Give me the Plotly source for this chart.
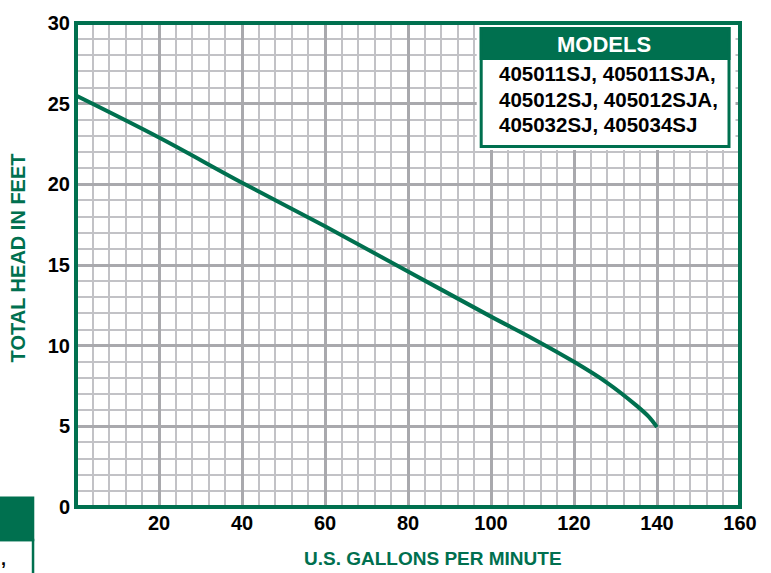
import plotly.graph_objects as go

gpm = [0, 20, 40, 60, 80, 100, 110, 120, 128, 135, 138, 140]
head = [25.5, 22.9, 20.1, 17.4, 14.6, 11.8, 10.45, 9.0, 7.7, 6.3, 5.6, 4.95]

x_ticks = [20, 40, 60, 80, 100, 120, 140, 160]
y_ticks = [0, 5, 10, 15, 20, 25, 30]
models_title = "MODELS"
models_lines = ["405011SJ, 405011SJA,", "405012SJ, 405012SJA,", "405032SJ, 405034SJ"]

GREEN = "#00704f"
FONT = "Liberation Sans, Arial, sans-serif"
W, H = 771, 573
L, R, T, B = 76, 740.5, 16, 507.5

def px(x):
    return (x - L) / (R - L)

def py(y):
    return (B - y) / (B - T)

fig = go.Figure()
fig.add_trace(go.Scatter(x=gpm, y=head, mode="lines",
                         line=dict(color=GREEN, width=4, shape="spline", smoothing=1.0),
                         hoverinfo="skip", showlegend=False))

axis_common = dict(
    showline=False,
    showgrid=True, gridcolor="#a9a9ad", gridwidth=2.5,
    zeroline=False, ticks="",
    tickfont=dict(family=FONT, size=20, color="black", weight="bold"),
)

fig.update_xaxes(range=[0, 160], tickvals=x_ticks, ticktext=[str(v) for v in x_ticks],
                 minor=dict(dtick=4, tick0=0, showgrid=True, gridcolor="#c2c2c6", gridwidth=1.5),
                 ticklabelstandoff=2, **axis_common)
fig.update_yaxes(range=[0, 30], tickvals=y_ticks, ticktext=[str(v) for v in y_ticks],
                 minor=dict(dtick=1, tick0=0, showgrid=True, gridcolor="#c2c2c6", gridwidth=1.5),
                 ticklabelstandoff=5, **axis_common)

shapes = []
# plot frame
shapes.append(dict(type="rect", xref="paper", yref="paper", x0=0, x1=1, y0=0, y1=1,
                   line=dict(color=GREEN, width=4), layer="above"))
# white pad and legend box
shapes.append(dict(type="rect", xref="paper", yref="paper",
                   x0=px(477), x1=px(736), y0=py(145), y1=py(18),
                   fillcolor="white", line=dict(width=0), layer="above"))
shapes.append(dict(type="rect", xref="paper", yref="paper",
                   x0=px(481.5), x1=px(729.5), y0=py(141.5), y1=py(21.5),
                   fillcolor="white", line=dict(color=GREEN, width=3), layer="above"))
shapes.append(dict(type="rect", xref="paper", yref="paper",
                   x0=px(481.5), x1=px(729.5), y0=py(52), y1=py(21.5),
                   fillcolor=GREEN, line=dict(color=GREEN, width=3), layer="above"))
# cut-off box at bottom left
shapes.append(dict(type="rect", xref="paper", yref="paper",
                   x0=px(-10), x1=px(33), y0=py(590), y1=py(541),
                   fillcolor="white", line=dict(color=GREEN, width=2.5), layer="above"))
shapes.append(dict(type="rect", xref="paper", yref="paper",
                   x0=px(-10), x1=px(33), y0=py(541), y1=py(498),
                   fillcolor=GREEN, line=dict(color=GREEN, width=2.5), layer="above"))

annotations = []
annotations.append(dict(text=models_title, xref="paper", yref="paper", x=px(604), y=py(37.5),
                        showarrow=False, xanchor="center", yanchor="middle",
                        font=dict(family=FONT, size=22, color="white", weight="bold")))
for t, yy in zip(models_lines, [67.5, 93.5, 119.5]):
    annotations.append(dict(text=t, xref="paper", yref="paper", x=px(497), y=py(yy),
                            showarrow=False, xanchor="left", yanchor="middle",
                            font=dict(family=FONT, size=20.5, color="black", weight="bold")))
annotations.append(dict(text="U.S. GALLONS PER MINUTE", xref="paper", yref="paper", x=px(433), y=py(560),
                        showarrow=False, xanchor="center", yanchor="middle",
                        font=dict(family=FONT, size=19, color=GREEN, weight="bold")))
annotations.append(dict(text="TOTAL HEAD IN FEET", xref="paper", yref="paper", x=px(18), y=py(255),
                        showarrow=False, xanchor="center", yanchor="middle", textangle=-90,
                        font=dict(family=FONT, size=20, color=GREEN, weight="bold")))
annotations.append(dict(text=",", xref="paper", yref="paper", x=px(3), y=py(560),
                        showarrow=False, xanchor="center", yanchor="middle",
                        font=dict(family=FONT, size=18, color="black", weight="bold")))

fig.update_layout(width=W, height=H, margin=dict(l=L, r=W - R, t=T, b=H - B),
                  plot_bgcolor="white", paper_bgcolor="white",
                  shapes=shapes, annotations=annotations, showlegend=False)

fig.write_html("out.html", config={"displayModeBar": False},
               post_script="document.body.style.margin='0';document.body.style.overflow='hidden';")
